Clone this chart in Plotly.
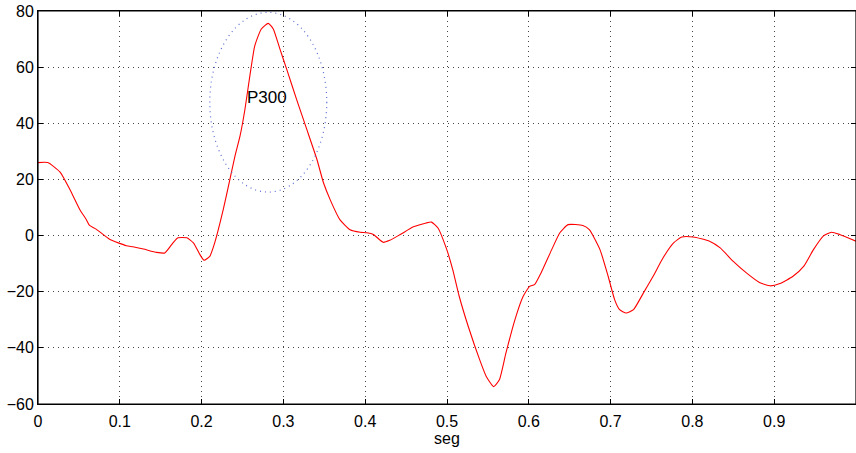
import plotly.graph_objects as go

t = [0, 0.012, 0.027, 0.039, 0.051, 0.059, 0.063, 0.071, 0.088, 0.108,
     0.116, 0.129, 0.145, 0.155, 0.165, 0.171, 0.182, 0.19, 0.198, 0.203,
     0.21, 0.216, 0.2265, 0.2346, 0.2408, 0.247, 0.253, 0.259, 0.265, 0.273,
     0.2815, 0.2876, 0.2958, 0.304, 0.316, 0.3285, 0.341, 0.349, 0.357, 0.369,
     0.3815, 0.394, 0.402, 0.41, 0.422, 0.43, 0.443, 0.459, 0.4746,
     0.481, 0.489, 0.499, 0.507, 0.515, 0.526, 0.540, 0.548, 0.557, 0.564,
     0.572, 0.583, 0.593, 0.601, 0.607, 0.615, 0.628, 0.638, 0.648, 0.666,
     0.674, 0.687, 0.697, 0.705, 0.711, 0.719, 0.728, 0.740, 0.752, 0.764,
     0.777, 0.787, 0.801, 0.821, 0.834, 0.850, 0.866, 0.882, 0.895, 0.907,
     0.923, 0.936, 0.948, 0.960, 0.970, 0.980, 1.0]

v = [26, 26, 22.6, 16.4, 9.3, 5.7, 3.6, 2.3, -1.4, -3.6,
     -4.0, -4.8, -6, -6.2, -2.6, -0.8, -0.8, -2.6, -6.8, -8.8,
     -7.4, -2.6, 9.3, 20, 28.3, 35.5, 45, 56.9, 67.6, 73.6,
     75.6, 73.6, 66.4, 59.3, 48.6, 37.9, 27.1, 18.8, 12.9, 5.7,
     2.1, 1.2, 1.0, 0.4, -2.4, -1.7, 0.4, 3.1, 4.5,
     4.8, 2.7, -4.4, -12.1, -21.7, -32.4, -44.3, -50.2, -53.8, -51.4,
     -41.9, -30, -21.7, -18.1, -17.5, -13.3, -5, 1, 3.9, 3.6,
     2.1, -5, -14.5, -22.9, -26.4, -27.6, -26.4, -20.5, -14.5, -8,
     -2.6, -0.5, -0.5, -2, -4.4, -9.2, -13.3, -16.7, -17.9, -17.1,
     -14.5, -11, -5, -0.2, 1.2, 0.4, -2]

x_ticks = [0, 0.1, 0.2, 0.3, 0.4, 0.5, 0.6, 0.7, 0.8, 0.9]
x_tick_labels = ["0", "0.1", "0.2", "0.3", "0.4", "0.5", "0.6", "0.7", "0.8", "0.9"]
y_ticks = [-60, -40, -20, 0, 20, 40, 60, 80]

# annotation ellipse (data coords)
ell_x = [0.210, 0.353]
ell_y = [15.5, 79.5]
label_text = "P300"
label_pos = (0.2796, 49.2)

font = "Liberation Sans, Arial, Helvetica, sans-serif"

fig = go.Figure()
fig.add_trace(go.Scatter(x=t, y=v, mode="lines",
                         line=dict(color="#ff0000", width=1.1, shape="spline", smoothing=0.5),
                         showlegend=False, hoverinfo="skip"))

fig.add_shape(type="circle", xref="x", yref="y",
              x0=ell_x[0], x1=ell_x[1], y0=ell_y[0], y1=ell_y[1],
              line=dict(color="#5a6fd0", width=1.2, dash="1px,4px"))

# axes box
fig.add_shape(type="rect", xref="paper", yref="paper", x0=0, x1=1, y0=0, y1=1,
              line=dict(color="#000", width=1.2), layer="above")

fig.add_annotation(x=label_pos[0], y=label_pos[1], text=label_text, showarrow=False,
                   font=dict(family=font, size=17, color="#000"))

axis_common = dict(showline=True, linecolor="#000", linewidth=1, mirror="ticks",
                   ticks="inside", ticklen=5, tickcolor="#000",
                   showgrid=True, gridcolor="#444", griddash="1px,4px", gridwidth=1,
                   zeroline=False, automargin=False,
                   tickfont=dict(family=font, size=16, color="#000"))

fig.update_xaxes(range=[0, 1], tickvals=x_ticks, ticktext=x_tick_labels,
                 ticklabelstandoff=3,
                 title=dict(text="seg", font=dict(family=font, size=16, color="#000"), standoff=2),
                 **axis_common)
fig.update_yaxes(range=[-60, 80], tickvals=y_ticks, **axis_common)

fig.update_layout(width=856, height=453,
                  margin=dict(l=38, r=0, t=11, b=49),
                  plot_bgcolor="#fff", paper_bgcolor="#fff",
                  font=dict(family=font, size=16, color="#000"))

fig.write_html("out.html", config={"displayModeBar": False},
               post_script="document.body.style.margin='0';document.body.style.overflow='hidden';")
